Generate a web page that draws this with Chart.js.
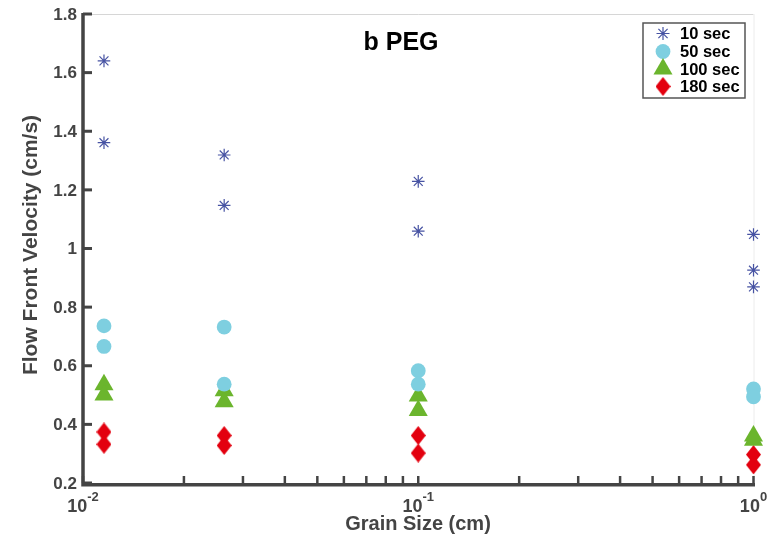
<!DOCTYPE html>
<html><head><meta charset="utf-8">
<script src="https://cdn.jsdelivr.net/npm/chart.js@4.4.1/dist/chart.umd.min.js"></script>
<style>html,body{margin:0;padding:0;background:#fff}canvas{display:block}</style>
</head><body>
<canvas id="c" width="778" height="541"></canvas>
<script>
// ---- data ----
const chartTitle = 'b PEG';
const xAxisTitle = 'Grain Size (cm)';
const yAxisTitle = 'Flow Front Velocity (cm/s)';
const seriesNames = ['10 sec', '50 sec', '100 sec', '180 sec'];

const grain10 = [0.01155, 0.01155, 0.02637, 0.02637, 0.1, 0.1, 1, 1, 1];
const vel10   = [1.640, 1.361, 1.319, 1.147, 1.229, 1.059, 1.048, 0.926, 0.869];

const grain50 = [0.01155, 0.01155, 0.02637, 0.02637, 0.1, 0.1, 1, 1];
const vel50   = [0.736, 0.666, 0.732, 0.537, 0.583, 0.537, 0.521, 0.494];

const grain100 = [0.01155, 0.01155, 0.02637, 0.02637, 0.1, 0.1, 1, 1];
const vel100   = [0.535, 0.500, 0.515, 0.477, 0.497, 0.447, 0.360, 0.346];

const grain180 = [0.01155, 0.01155, 0.02637, 0.02637, 0.1, 0.1, 1, 1];
const vel180   = [0.374, 0.332, 0.362, 0.328, 0.362, 0.302, 0.297, 0.262];

const yTickValues = [0.2, 0.4, 0.6, 0.8, 1.0, 1.2, 1.4, 1.6, 1.8];
const yTickLabels = ['0.2', '0.4', '0.6', '0.8', '1', '1.2', '1.4', '1.6', '1.8'];
const xMajorTicks = [0.01, 0.1, 1];
const xTickExponents = ['-2', '-1', '0'];
const xMinorTicks = [0.02, 0.03, 0.04, 0.05, 0.06, 0.07, 0.08, 0.09,
                     0.2, 0.3, 0.4, 0.5, 0.6, 0.7, 0.8, 0.9];

// ---- styles ----
const AXIS = '#444444';
const FONT = "'Liberation Sans', Arial, Helvetica, sans-serif";
const colors = ['#4753a3', '#7ecfe0', '#6bb52d', '#e3000f'];

function diamondImage(w, h, color) {
  const cv = document.createElement('canvas');
  cv.width = w; cv.height = h;
  const g = cv.getContext('2d');
  g.fillStyle = color;
  g.beginPath();
  g.moveTo(w / 2, 0); g.lineTo(w, h / 2); g.lineTo(w / 2, h); g.lineTo(0, h / 2);
  g.closePath(); g.fill();
  return cv;
}
const diamond = diamondImage(15, 19, colors[3]);

function pts(xs, ys) { return xs.map((x, i) => ({ x: x, y: ys[i] })); }

const datasets = [
  { label: seriesNames[0], data: pts(grain10, vel10), pointStyle: 'star', pointRadius: 6.3,
    borderColor: colors[0], backgroundColor: colors[0], pointBorderWidth: 1.2 },
  { label: seriesNames[1], data: pts(grain50, vel50), pointStyle: 'circle', pointRadius: 7.4,
    borderColor: colors[1], backgroundColor: colors[1], pointBorderWidth: 0 },
  { label: seriesNames[2], data: pts(grain100, vel100), pointStyle: 'triangle', pointRadius: 11,
    borderColor: colors[2], backgroundColor: colors[2], pointBorderWidth: 0 },
  { label: seriesNames[3], data: pts(grain180, vel180), pointStyle: diamond, pointRadius: 9,
    borderColor: colors[3], backgroundColor: colors[3], pointBorderWidth: 0 }
].map(d => Object.assign(d, { showLine: false, clip: false, pointHoverRadius: d.pointRadius }));

const framePlugin = {
  id: 'frame',
  beforeDatasetsDraw(chart) {
    const ctx = chart.ctx, xs = chart.scales.x, ys = chart.scales.y;
    const L = xs.getPixelForValue(0.01), R = xs.getPixelForValue(1);
    const T = ys.getPixelForValue(1.8), B = ys.getPixelForValue(0.2);
    ctx.save();
    // light box (top / right)
    ctx.strokeStyle = '#d6d6d6'; ctx.lineWidth = 1;
    ctx.beginPath(); ctx.moveTo(L, T + 0.5); ctx.lineTo(R, T + 0.5); ctx.stroke();
    ctx.strokeStyle = '#ececec';
    ctx.beginPath(); ctx.moveTo(R + 0.5, T); ctx.lineTo(R + 0.5, B); ctx.stroke();
    // dark axes
    ctx.strokeStyle = AXIS; ctx.lineWidth = 3.5; ctx.lineCap = 'butt';
    ctx.beginPath(); ctx.moveTo(L, T - 1); ctx.lineTo(L, B + 1.75); ctx.lineTo(R + 1.5, B + 1.75); ctx.stroke();
    // y ticks (inward)
    ctx.lineWidth = 3;
    yTickValues.forEach(v => {
      const y = ys.getPixelForValue(v);
      ctx.beginPath(); ctx.moveTo(L, y); ctx.lineTo(L + 9, y); ctx.stroke();
    });
    // x ticks (inward)
    ctx.lineWidth = 2.5;
    xMajorTicks.concat(xMinorTicks).forEach(v => {
      const x = xs.getPixelForValue(v);
      ctx.beginPath(); ctx.moveTo(x, B); ctx.lineTo(x, B - 7); ctx.stroke();
    });
    // y tick labels
    ctx.fillStyle = AXIS; ctx.font = 'bold 17px ' + FONT;
    ctx.textAlign = 'right'; ctx.textBaseline = 'middle';
    yTickValues.forEach((v, i) => ctx.fillText(yTickLabels[i], L - 6, ys.getPixelForValue(v) + 1));
    // x tick labels 10^n
    ctx.textBaseline = 'alphabetic'; ctx.textAlign = 'left';
    xMajorTicks.forEach((v, i) => {
      const x = xs.getPixelForValue(v);
      ctx.font = 'bold 18px ' + FONT; const wb = ctx.measureText('10').width;
      ctx.font = 'bold 13px ' + FONT; const we = ctx.measureText(xTickExponents[i]).width;
      const x0 = x - (wb + we) / 2;
      ctx.font = 'bold 18px ' + FONT; ctx.fillText('10', x0, 512);
      ctx.font = 'bold 13px ' + FONT; ctx.fillText(xTickExponents[i], x0 + wb, 501);
    });
    // axis titles
    ctx.textAlign = 'center'; ctx.textBaseline = 'middle';
    ctx.font = 'bold 20px ' + FONT;
    ctx.fillText(xAxisTitle, 418, 524);
    ctx.save(); ctx.translate(31, 245); ctx.rotate(-Math.PI / 2);
    ctx.font = 'bold 21px ' + FONT;
    ctx.fillText(yAxisTitle, 0, 0); ctx.restore();
    // chart title
    ctx.fillStyle = '#000'; ctx.font = 'bold 25px ' + FONT;
    ctx.fillText(chartTitle, 401, 43);
    ctx.restore();
  },
  afterDraw(chart) {
    const ctx = chart.ctx;
    ctx.save();
    // legend box
    ctx.fillStyle = '#fff'; ctx.fillRect(643, 23, 102, 75);
    ctx.strokeStyle = '#555'; ctx.lineWidth = 1.5; ctx.strokeRect(643, 23, 102, 75);
    const rows = [33.5, 51.5, 69, 86.5];
    chart.data.datasets.forEach((d, i) => {
      ctx.save();
      ctx.fillStyle = d.backgroundColor; ctx.strokeStyle = d.borderColor;
      ctx.lineWidth = d.pointBorderWidth || 1;
      const r = i === 0 ? 6.5 : d.pointRadius;
      Chart.helpers.drawPoint(ctx, { pointStyle: d.pointStyle, radius: r, rotation: 0, borderWidth: d.pointBorderWidth }, 663, rows[i]);
      ctx.restore();
      ctx.fillStyle = '#000'; ctx.font = 'bold 16.5px ' + FONT;
      ctx.textAlign = 'left'; ctx.textBaseline = 'middle';
      ctx.fillText(d.label, 680, rows[i] + 1);
    });
    ctx.restore();
  }
};

new Chart(document.getElementById('c'), {
  type: 'scatter',
  data: { datasets: datasets },
  options: {
    responsive: false, animation: false, devicePixelRatio: 1,
    layout: { padding: { left: 83, right: 24.5, top: 14, bottom: 58 } },
    plugins: { legend: { display: false }, tooltip: { enabled: false }, title: { display: false } },
    scales: {
      x: { type: 'logarithmic', min: 0.01, max: 1, display: false },
      y: { type: 'linear', min: 0.2, max: 1.8, display: false }
    }
  },
  plugins: [framePlugin]
});
</script>
</body></html>
